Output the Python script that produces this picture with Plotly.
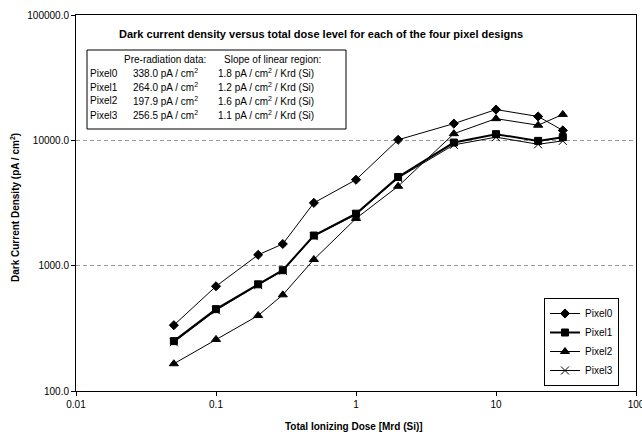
import plotly.graph_objects as go

dose = [0.05, 0.1, 0.2, 0.3, 0.5, 1, 2, 5, 10, 20, 30]
pixel0 = [335, 685, 1220, 1490, 3170, 4850, 10100, 13600, 17600, 15500, 12000]
pixel1 = [250, 450, 710, 920, 1740, 2600, 5100, 9600, 11200, 9900, 10600]
pixel2 = [165, 258, 400, 585, 1120, 2380, 4300, 11300, 14900, 13200, 16100]
pixel3 = [245, 440, 700, 910, 1720, 2550, 5000, 9200, 10600, 9300, 9900]

series_names = ["Pixel0", "Pixel1", "Pixel2", "Pixel3"]
pre_rad = ["338.0", "264.0", "197.9", "256.5"]
slopes = ["1.8", "1.2", "1.6", "1.1"]

x_tickvals = [0.01, 0.1, 1, 10, 100]
x_ticktext = ["0.01", "0.1", "1", "10", "100"]
y_tickvals = [100, 1000, 10000, 100000]
y_ticktext = ["100.0", "1000.0", "10000.0", "100000.0"]

FONT = "Liberation Sans, Arial, sans-serif"
W, H = 642, 435
L, R, T, B = 76, 6, 15, 44
PW, PH = W - L - R, H - T - B


def px(x):
    return (x - L) / PW


def py(y):
    return (H - B - y) / PH


fig = go.Figure()
styles = [
    dict(symbol="diamond", size=7, lw=1),
    dict(symbol="square", size=7, lw=2),
    dict(symbol="triangle-up", size=8, lw=1),
    dict(symbol="x-thin", size=8, lw=1),
]
for name, ys, st in zip(series_names, [pixel0, pixel1, pixel2, pixel3], styles):
    fig.add_trace(go.Scatter(
        x=dose, y=ys, name=name, mode="lines+markers",
        line=dict(color="black", width=st["lw"]),
        marker=dict(symbol=st["symbol"], size=st["size"], color="black",
                    line=dict(color="black", width=1)),
    ))

ann = []
ann.append(dict(x=px(321), y=py(34), xref="paper", yref="paper",
                text="<b>Dark current density versus total dose level for each of the four pixel designs</b>",
                showarrow=False, xanchor="center", yanchor="middle",
                font=dict(family=FONT, size=11, color="black")))
ann.append(dict(x=px(354), y=py(426), xref="paper", yref="paper",
                text="<b>Total Ionizing Dose [Mrd (Si)]</b>", showarrow=False,
                xanchor="center", yanchor="middle",
                font=dict(family=FONT, size=10, color="black")))
ann.append(dict(x=px(15), y=py(208), xref="paper", yref="paper",
                text="<b>Dark Current Density (pA / cm<sup>2</sup>)</b>", showarrow=False,
                textangle=-90, xanchor="center", yanchor="middle",
                font=dict(family=FONT, size=10, color="black")))

tfont = dict(family=FONT, size=10, color="black")
ann.append(dict(x=px(122), y=py(59), xref="paper", yref="paper", text="Pre-radiation data:",
                showarrow=False, xanchor="left", yanchor="middle", font=tfont))
ann.append(dict(x=px(222), y=py(59), xref="paper", yref="paper", text="Slope of linear region:",
                showarrow=False, xanchor="left", yanchor="middle", font=tfont))
for i, (n, p, s) in enumerate(zip(series_names, pre_rad, slopes)):
    yy = 73 + 14 * i
    ann.append(dict(x=px(88), y=py(yy), xref="paper", yref="paper", text=n,
                    showarrow=False, xanchor="left", yanchor="middle", font=tfont))
    ann.append(dict(x=px(131), y=py(yy), xref="paper", yref="paper",
                    text=f"{p} pA / cm<sup>2</sup>",
                    showarrow=False, xanchor="left", yanchor="middle", font=tfont))
    ann.append(dict(x=px(216), y=py(yy), xref="paper", yref="paper",
                    text=f"{s} pA / cm<sup>2</sup> / Krd (Si)",
                    showarrow=False, xanchor="left", yanchor="middle", font=tfont))

shapes = [dict(type="rect", xref="paper", yref="paper",
               x0=px(87), x1=px(346), y0=py(129), y1=py(50),
               line=dict(color="black", width=1), fillcolor="white", layer="below")]

fig.update_layout(
    width=W, height=H,
    margin=dict(l=L, r=R, t=T, b=B, pad=0, autoexpand=False),
    paper_bgcolor="white", plot_bgcolor="white",
    font=dict(family=FONT, size=10, color="black"),
    showlegend=True,
    legend=dict(x=px(544), y=py(298), xanchor="left", yanchor="top",
                bgcolor="white", bordercolor="black", borderwidth=1,
                font=dict(family=FONT, size=10, color="black"),
                tracegroupgap=0, itemwidth=30),
    annotations=ann, shapes=shapes,
    xaxis=dict(type="log", range=[-2, 2], tickvals=x_tickvals, ticktext=x_ticktext,
               showgrid=False, zeroline=False, showline=True, linecolor="black",
               linewidth=1, mirror=True, ticks="outside", ticklen=4, tickcolor="black",
               ticklabeloverflow="allow", automargin=False,
               tickfont=dict(family=FONT, size=10, color="black")),
    yaxis=dict(type="log", range=[2, 5], tickvals=y_tickvals, ticktext=y_ticktext,
               showgrid=True, gridcolor="#999999", griddash="4px,3px", gridwidth=1,
               zeroline=False, showline=True, linecolor="black", automargin=False,
               linewidth=1, mirror=True, ticks="outside", ticklen=4, tickcolor="black",
               tickfont=dict(family=FONT, size=10, color="black")),
)

fig.write_html("out.html", config={"displayModeBar": False},
               post_script="document.body.style.margin='0px';")
